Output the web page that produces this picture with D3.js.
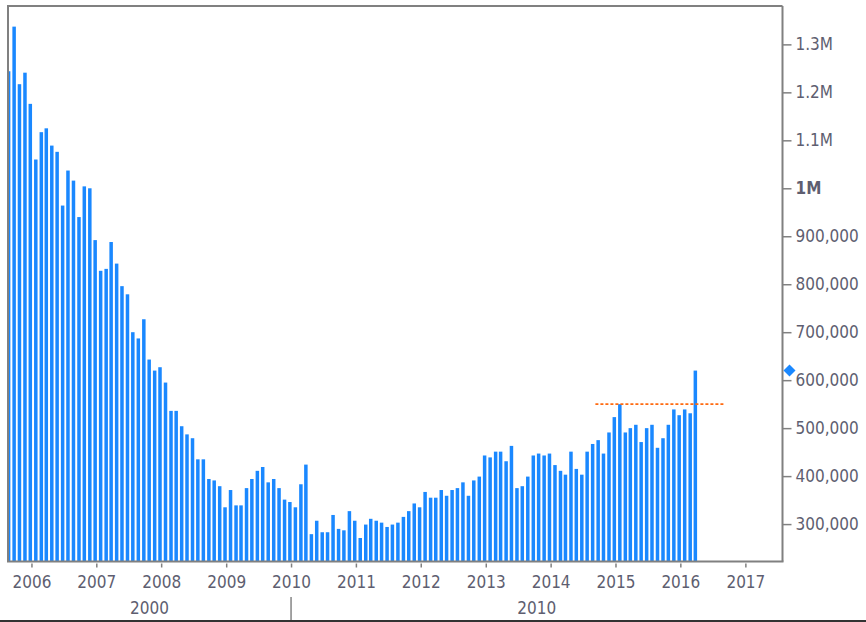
<!DOCTYPE html>
<html lang="en">
<head>
<meta charset="UTF-8">
<title>Monthly bars</title>
<script src="https://d3js.org/d3.v7.min.js"></script>
<style>
  body { margin: 0; background: #fff; }
  svg text { font-family: "DejaVu Sans Condensed", "DejaVu Sans", sans-serif; font-stretch: condensed; }
</style>
</head>
<body>
<svg id="chart" width="866" height="622"></svg>
<script>
// monthly values, Aug 2005 .. Mar 2016
const firstMonth = new Date(2005, 7, 1);
const values = [
  1244000, 1337000, 1217000, 1241000, 1176000,
  1060000, 1117000, 1125000, 1089000, 1076000, 964000, 1037000, 1016000, 940000, 1004000, 1000000, 892000,
  828000, 832000, 888000, 843000, 796000, 779000, 700000, 687000, 727000, 643000, 620000, 627000,
  595000, 536000, 536000, 504000, 487000, 479000, 435000, 435000, 394000, 391000, 379000, 335000,
  371000, 339000, 339000, 375000, 394000, 411000, 419000, 387000, 394000, 375000, 351000, 346000,
  335000, 383000, 424000, 279000, 307000, 283000, 283000, 319000, 290000, 287000, 327000, 307000,
  271000, 299000, 311000, 307000, 303000, 294000, 299000, 303000, 315000, 327000, 343000, 335000,
  367000, 355000, 355000, 371000, 359000, 371000, 375000, 387000, 359000, 391000, 399000, 443000,
  439000, 451000, 451000, 431000, 463000, 375000, 379000, 399000, 443000, 447000, 443000, 447000,
  423000, 411000, 403000, 451000, 415000, 403000, 451000, 467000, 475000, 447000, 491000, 523000,
  550000, 491000, 500000, 507000, 471000, 500000, 507000, 459000, 479000, 507000, 539000, 527000,
  539000, 531000, 620000
];
const yTicks = [300000, 400000, 500000, 600000, 700000, 800000, 900000, 1000000, 1100000, 1200000, 1300000];
const yearTicks = [2006, 2007, 2008, 2009, 2010, 2011, 2012, 2013, 2014, 2015, 2016, 2017];
const decadeLabels = ["2000", "2010"];
const decadeBreak = new Date(2010, 0, 1);
const refValue = 550000;
const refStart = new Date(2014, 8, 10), refEnd = new Date(2016, 8, 10);

const svg = d3.select("#chart");
const plotLeft = 8, plotRight = 782.5, plotTop = 6, plotBottom = 561.5;

const x = d3.scaleTime()
  .domain([new Date(2005, 7, 22), new Date(2017, 6, 29)])
  .range([plotLeft, plotRight]);
const y = d3.scaleLinear().domain([222000, 1380000]).range([plotBottom, plotTop]);

const data = values.map((v, i) => ({ date: d3.timeMonth.offset(firstMonth, i), value: v }));

svg.append("clipPath").attr("id", "plot-clip")
  .append("rect").attr("x", plotLeft).attr("y", plotTop)
  .attr("width", plotRight - plotLeft).attr("height", plotBottom - plotTop);

// bars
const barW = 3.5;
svg.append("g").attr("clip-path", "url(#plot-clip)")
  .selectAll("rect").data(data).join("rect")
  .attr("x", d => x(d.date) + 2.6)
  .attr("y", d => y(d.value))
  .attr("width", barW)
  .attr("height", d => plotBottom - y(d.value))
  .attr("fill", "#1a88ff");

// reference dashed line
svg.append("line")
  .attr("x1", x(refStart)).attr("x2", x(refEnd))
  .attr("y1", y(refValue)).attr("y2", y(refValue))
  .attr("stroke", "#ff6a10").attr("stroke-width", 1.6)
  .attr("stroke-dasharray", "3,2");

// frame
svg.append("path")
  .attr("d", `M${plotLeft},${plotBottom}V${plotTop}H${plotRight}`)
  .attr("fill", "none").attr("stroke", "#808080").attr("stroke-width", 2);

// right axis
const fmt = d3.format(",");
const yAxis = svg.append("g")
  .attr("transform", `translate(${plotRight},0)`)
  .call(d3.axisRight(y).tickValues(yTicks).tickSize(9).tickPadding(4)
    .tickFormat(d => d >= 1000000 ? (d / 1000000) + "M" : fmt(d)));
yAxis.select(".domain").attr("stroke", "#808080").attr("stroke-width", 2)
  .attr("d", `M0,${plotTop}V${plotBottom}`);
yAxis.selectAll(".tick line").attr("stroke", "#808080").attr("stroke-width", 1.5);
yAxis.selectAll(".tick text")
  .attr("fill", "#5e5e70").attr("font-size", 17)
  .attr("font-weight", d => d === 1000000 ? "bold" : null);

// bottom axis
svg.append("line").attr("x1", plotLeft - 1).attr("x2", plotRight + 1)
  .attr("y1", plotBottom).attr("y2", plotBottom)
  .attr("stroke", "#808080").attr("stroke-width", 2);
const xAxis = svg.append("g")
  .attr("transform", `translate(0,${plotBottom})`)
  .call(d3.axisBottom(x).tickValues(yearTicks.map(yr => new Date(yr, 0, 1)))
    .tickSize(6).tickPadding(8).tickFormat(d3.timeFormat("%Y")));
xAxis.select(".domain").remove();
xAxis.selectAll(".tick line").attr("stroke", "#808080").attr("stroke-width", 1.5).attr("y1", 2);
xAxis.selectAll(".tick text").attr("fill", "#5e5e70").attr("font-size", 17);

// decade row
const decadeEdges = [plotLeft, x(decadeBreak), plotRight];
svg.append("line")
  .attr("x1", x(decadeBreak)).attr("x2", x(decadeBreak))
  .attr("y1", 597).attr("y2", 621)
  .attr("stroke", "#666").attr("stroke-width", 1.2);
svg.selectAll(".decade").data(decadeLabels).join("text")
  .attr("class", "decade")
  .attr("x", (d, i) => (decadeEdges[i] + decadeEdges[i + 1]) / 2)
  .attr("y", 614)
  .attr("text-anchor", "middle")
  .attr("font-size", 17)
  .attr("fill", "#5e5e70")
  .text(d => d);
svg.append("line").attr("x1", 0).attr("x2", 866).attr("y1", 621).attr("y2", 621)
  .attr("stroke", "#333").attr("stroke-width", 2);

// last value marker
const last = data[data.length - 1];
svg.append("path")
  .attr("d", d3.symbol(d3.symbolSquare, 72)())
  .attr("transform", `translate(${plotRight + 7},${y(last.value)}) rotate(45)`)
  .attr("fill", "#1a88ff");
</script>
</body>
</html>
